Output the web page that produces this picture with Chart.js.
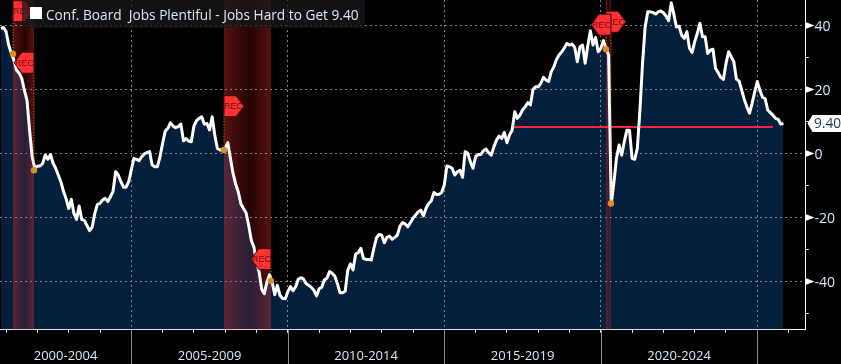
<!DOCTYPE html>
<html>
<head>
<meta charset="utf-8">
<script src="https://cdn.jsdelivr.net/npm/chart.js@4"></script>
<style>
  html, body { margin:0; padding:0; background:#000; overflow:hidden; }
  #wrap { position:relative; width:841px; height:364px; }
  #legend { position:absolute; left:22px; top:0; width:343px; height:28px; background:rgba(24,24,24,0.75);
            color:#d6e9fb; font:13.7px "Open Sans", sans-serif; white-space:pre; }
  #legend i { position:absolute; left:8px; top:7px; width:12px; height:12px; background:#fff; }
  #legend span { position:absolute; left:24px; top:5px; }
</style>
</head>
<body>
<div id="wrap">
  <canvas id="chart" width="841" height="364"></canvas>
  <div id="legend"><i></i><span>Conf. Board  Jobs Plentiful - Jobs Hard to Get 9.40</span></div>
</div>
<script>
// monthly, Oct 2000 onward
const firstYear = 2000, firstMonth = 10;
const differential = [
  39.1,39.4,38.1,33.9,31.3,29.2,26.1,25.1,23.5,19.8,16.7,7.4,-1,-4.6,-3.9,-3.9,-3.1,-0.5,-1.8,-0.3,
  -3,-4.6,-6.7,-8.8,-11.8,-14.1,-17.2,-14.3,-18.7,-20.6,-16.4,-20.6,-20.9,-22.5,-24.1,-23,-18.7,-15.9,-15.6,-14.5,
  -14,-15,-13.5,-11.8,-5.7,-6.7,-8.8,-10.5,-10.5,-8.8,-5.1,-1.5,-1.8,-2.2,-1,-0.1,0.3,0.6,-3.6,-4.1,
  -4.1,-1,3.2,7,7.9,9.6,8.6,8.1,8.4,9.2,4,4.7,3.9,3.7,8.6,10.3,11,11.5,9.2,9.4,
  7.4,11.5,5.8,1.6,1.1,1.4,1.6,3.4,-1.5,-6.2,-9.5,-12,-15.7,-17.2,-18.5,-22.4,-27.1,-29.2,-33.9,-37,
  -42.4,-43.8,-40.2,-37.9,-40.2,-44.1,-41.2,-44.3,-45.3,-45.4,-43.2,-41.6,-42.9,-41.6,-39.3,-38.8,-39.2,-40.6,-41.2,-41.8,
  -42.7,-44.5,-42.3,-41.8,-39.5,-39,-36.9,-37.4,-38.3,-40.6,-43.5,-43.5,-43,-36.4,-34.5,-36.4,-31.4,-31,-29.6,-32.8,
  -33.1,-33.1,-33.3,-29.6,-26.3,-25.3,-25.5,-27.9,-26.2,-25.8,-26.8,-26.2,-25.5,-22.7,-21.6,-22,-22.9,-21.6,-20.2,-19.2,
  -18.2,-17.7,-19.5,-17.1,-15.6,-14.8,-12.2,-12.8,-12.7,-12.2,-9.8,-3.9,-4.1,-4.6,-6.7,-5.7,-5.2,-7.4,0.6,0.1,
  -2.6,-4.6,-1,-0.3,-0.3,0.9,1.4,0.3,-0.5,2.1,4.2,5.5,4.7,6.6,3.4,5.8,7.3,13.1,11,12,
  13.6,14.6,15.9,15.2,20,20.9,20.9,21.9,23.8,23,22.5,25.6,27.1,29.4,30.8,31.8,33,34.4,33.9,34.2,
  33.2,28.7,33.4,33.9,28.2,33.7,38.4,33.9,36.3,31.8,32.9,35.3,32.9,30.8,-15.6,-9.3,-1.5,2.7,-0.5,3.7,
  7.3,7.3,-1.5,-1.8,1.6,13.6,28.2,39.6,44.3,44.3,44.1,43.6,44.3,44.6,44,43,41.5,47.1,43.6,39.6,
  39.8,37,36,38.1,32.9,31.6,35,37.6,40.7,36.5,36.5,31.3,32.3,32.6,26.6,25.3,23.8,23.2,28.2,31.8,
  30.3,28.7,23.2,22.7,19.8,17,14.6,12.6,15.7,19.3,22.5,19.8,17.6,17.2,13.6,12.8,12,11,10.7,9.2,
  9.4
];
const lastValue = 9.40;

const xMin = 2000.805, xMax = 2026.54, yMin = -55, yMax = 48;
const yearTicks = [2001,2002,2003,2004,2005,2006,2007,2008,2009,2010,2011,2012,2013,2014,2015,2016,2017,2018,2019,2020,2021,2022,2023,2024,2025,2026];
const periodCenters = [2002.9,2007.5,2012.5,2017.5,2022.5];
const periodLabels = ['2000-2004','2005-2009','2010-2014','2015-2019','2020-2024'];
const periodBreaks = [2005,2010,2015,2020,2025];
const yTickValues = [-50,-40,-30,-20,-10,0,10,20,30,40];

const recStart = [2001.22,2007.96,2020.165];
const recEnd   = [2001.89,2009.46,2020.325];
const recStartValue = [31.1,1.1,32.6];
const recEndValue   = [-5.2,-39.8,-15.6];
const recStartFlagY = [44.5,14.8,41.2];
const recEndFlagY   = [28.4,-33,40.3];

const redLineX = [2017.19,2025.5];
const redLineY = [8.3,8.3];

const C = { navy:'#041f3b', grid:'#79828c', sep:'#8a8a8a', text:'#d6e9fb', red:'#ff2346', flag:'#ff3134', flagText:'#6b0c0c', orange:'#d98a1c' };
const FONT = '13.7px "Open Sans", sans-serif';

const series = differential.map((v,i) => ({ x: firstYear + (firstMonth + i)/12, y: v }));
const dots = recStart.map((x,i)=>({x, y:recStartValue[i]})).concat(recEnd.map((x,i)=>({x, y:recEndValue[i]})));

// ── Bands go over the area fill but under the line ────────────
const bandsPlugin = {
  id:'bands',
  afterDatasetDraw(chart, args) {
    if (args.index !== 0) return;
    const { ctx, chartArea:a, scales:{x} } = chart;
    ctx.save();
    recStart.forEach((s,i) => {
      const l = x.getPixelForValue(s), r = x.getPixelForValue(recEnd[i]);
      const g = ctx.createLinearGradient(l,0,r,0);
      g.addColorStop(0,'rgba(255,50,50,0.35)');
      g.addColorStop(0.55,'rgba(255,30,30,0.14)');
      g.addColorStop(1,'rgba(255,50,50,0.35)');
      ctx.fillStyle = g;
      ctx.fillRect(l,a.top,r-l,a.bottom-a.top);
    });
    ctx.restore();
    chart.scales.x.drawGrid(a);
    chart.scales.y.drawGrid(a);
  }
};

function drawFlag(ctx, x, yc, dir) {
  const w = 20, h = 21, tip = 8;
  ctx.beginPath();
  ctx.moveTo(x, yc-h/2);
  ctx.lineTo(x+dir*(w-tip), yc-h/2);
  ctx.lineTo(x+dir*w, yc);
  ctx.lineTo(x+dir*(w-tip), yc+h/2);
  ctx.lineTo(x, yc+h/2);
  ctx.closePath();
  ctx.fillStyle = C.flag;
  ctx.strokeStyle = '#3a0808';
  ctx.lineWidth = 1;
  ctx.fill();
  ctx.stroke();
  ctx.fillStyle = C.flagText;
  ctx.font = '9px "Liberation Sans", sans-serif';
  ctx.textAlign = 'center';
  ctx.textBaseline = 'middle';
  ctx.fillText('REC', x+dir*9.5, yc+0.5);
}

const overlayPlugin = {
  id:'overlay',
  afterDraw(chart) {
    const { ctx, chartArea:a, scales:{x,y} } = chart;
    ctx.save();

    // period separators under the axis
    ctx.strokeStyle = C.sep;
    ctx.lineWidth = 1;
    periodBreaks.forEach(b => {
      const px = Math.round(x.getPixelForValue(b)) + 0.5;
      ctx.beginPath(); ctx.moveTo(px,a.bottom); ctx.lineTo(px,364); ctx.stroke();
    });

    // triangles on labelled y ticks
    ctx.fillStyle = '#fff';
    yTickValues.filter(v => v % 20 === 0).forEach(v => {
      const py = y.getPixelForValue(v);
      ctx.beginPath(); ctx.moveTo(a.right,py-3.5); ctx.lineTo(a.right+9,py); ctx.lineTo(a.right,py+3.5); ctx.closePath(); ctx.fill();
    });

    // dotted droppers, then flags
    ctx.strokeStyle = C.orange;
    ctx.setLineDash([1,2]);
    recStart.forEach((s,i) => {
      const px = x.getPixelForValue(s);
      ctx.beginPath(); ctx.moveTo(px,y.getPixelForValue(recStartFlagY[i])); ctx.lineTo(px,y.getPixelForValue(recStartValue[i])); ctx.stroke();
      const pe = x.getPixelForValue(recEnd[i]);
      ctx.beginPath(); ctx.moveTo(pe,y.getPixelForValue(recEndFlagY[i])); ctx.lineTo(pe,y.getPixelForValue(recEndValue[i])); ctx.stroke();
    });
    ctx.setLineDash([]);
    recStart.forEach((s,i) => {
      drawFlag(ctx, x.getPixelForValue(s), y.getPixelForValue(recStartFlagY[i]), 1);
      drawFlag(ctx, x.getPixelForValue(recEnd[i]), y.getPixelForValue(recEndFlagY[i]), -1);
    });

    // last value tag
    const ly = y.getPixelForValue(lastValue);
    ctx.fillStyle = '#fff';
    ctx.beginPath();
    ctx.moveTo(a.right+2,ly);
    ctx.lineTo(a.right+7,ly-8.5);
    ctx.lineTo(841,ly-8.5);
    ctx.lineTo(841,ly+8.5);
    ctx.lineTo(a.right+7,ly+8.5);
    ctx.closePath();
    ctx.fill();
    ctx.fillStyle = '#1c3555';
    ctx.font = FONT;
    ctx.textAlign = 'left';
    ctx.textBaseline = 'middle';
    ctx.fillText(lastValue.toFixed(2), a.right+8.5, ly+0.5);
    ctx.restore();
  }
};

new Chart(document.getElementById('chart'), {
  type:'line',
  data:{ datasets:[
    { label:'area', data:series, borderWidth:0, pointRadius:0, fill:'start', backgroundColor:C.navy, order:3 },
    { label:'level', data:redLineX.map((x,i)=>({x,y:redLineY[i]})), borderColor:C.red, borderWidth:2, pointRadius:0, order:2 },
    { label:'Conf. Board Jobs Plentiful - Jobs Hard to Get', data:series, borderColor:'#fff', borderWidth:3, pointRadius:0, tension:0, borderJoinStyle:'round', order:1 },
    { label:'rec', data:dots, showLine:false, pointRadius:3.2, pointBackgroundColor:'#dd8f26', pointBorderWidth:0, order:0 },
  ]},
  options:{
    responsive:false, animation:false, events:[],
    layout:{ padding:0, autoPadding:false },
    plugins:{ legend:{display:false}, tooltip:{enabled:false} },
    scales:{
      x:{ type:'linear', min:xMin, max:xMax,
          afterBuildTicks:s => { s.ticks = yearTicks.concat(periodCenters).sort((a,b)=>a-b).map(value=>({value})); },
          afterFit:s => { s.height = 34.5; s.paddingLeft = 0; s.paddingRight = 0; },
          border:{ color:'#fff', width:1, dash:[2,3] },
          grid:{ tickLength:3, tickBorderDash:[],
                 color:c => periodBreaks.includes(c.tick.value) ? C.grid : 'transparent',
                 tickColor:c => periodCenters.includes(c.tick.value) ? 'transparent' : '#fff' },
          ticks:{ autoSkip:false, maxRotation:0, minRotation:0, padding:16, color:C.text, font:{family:'"Open Sans", sans-serif',size:13},
                  callback:v => { const k = periodCenters.indexOf(v); return k >= 0 ? periodLabels[k] : ''; } } },
      y:{ position:'right', min:yMin, max:yMax,
          afterBuildTicks:s => { s.ticks = yTickValues.map(value=>({value})); },
          afterFit:s => { s.width = 35.5; s.paddingTop = 0; s.paddingBottom = 0; },
          border:{ color:'#fff', width:1, dash:[2,3] },
          grid:{ tickLength:3, tickBorderDash:[],
                 color:c => c.tick.value % 20 === 0 ? C.grid : 'transparent',
                 tickColor:'#fff' },
          ticks:{ autoSkip:false, padding:6, labelOffset:1.5, color:C.text, font:{family:'"Open Sans", sans-serif',size:14},
                  callback:v => v % 20 === 0 ? String(v) : '' } },
    },
  },
  plugins:[bandsPlugin, overlayPlugin],
});
</script>
</body>
</html>
